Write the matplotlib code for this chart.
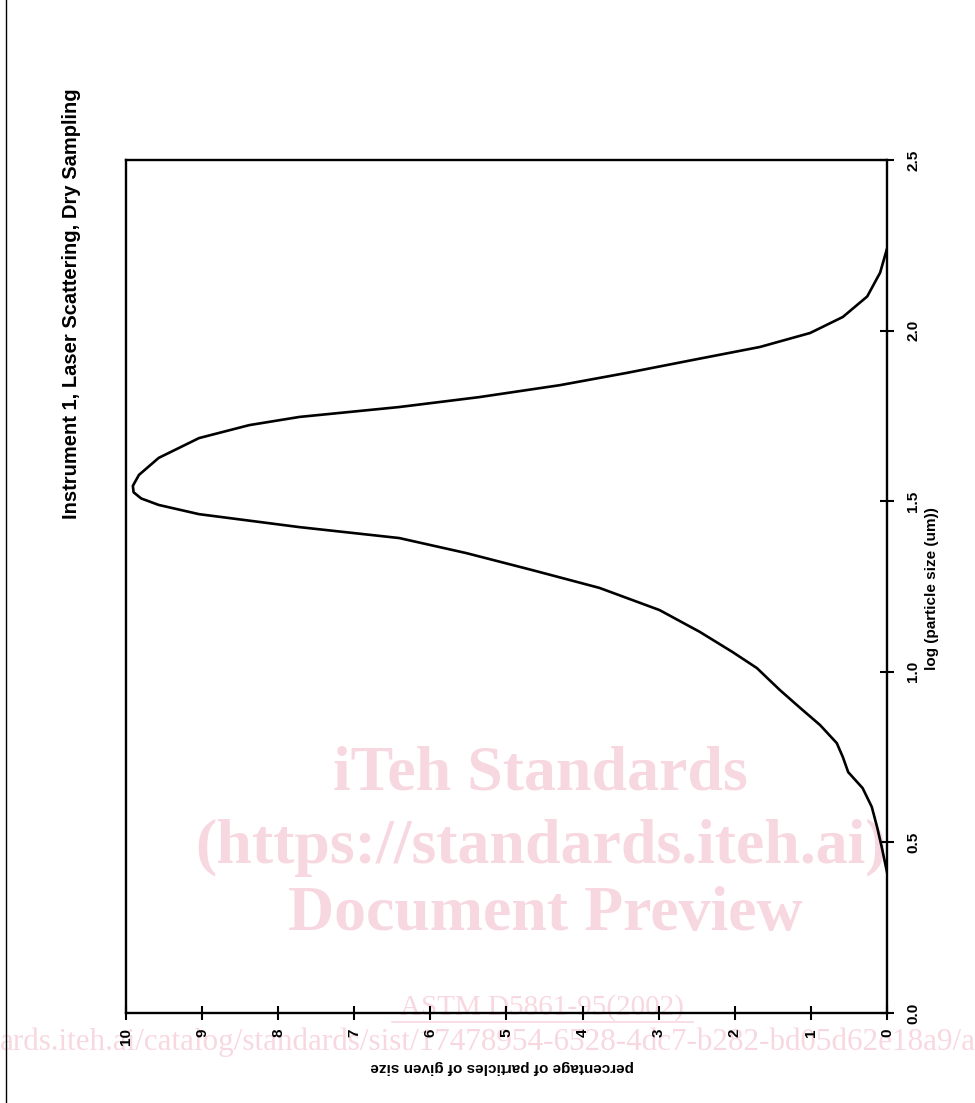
import matplotlib
matplotlib.use('Agg')
import matplotlib.pyplot as plt
from matplotlib.lines import Line2D

# ---- data ----
log_size = [0.413, 0.487, 0.545, 0.604, 0.659, 0.706, 0.750, 0.791, 0.844, 0.894,
            0.947, 1.011, 1.058, 1.117, 1.181, 1.246, 1.298, 1.348, 1.392, 1.424,
            1.462, 1.489, 1.508, 1.526, 1.545, 1.577, 1.627, 1.685, 1.723, 1.747,
            1.776, 1.805, 1.840, 1.876, 1.914, 1.952, 1.993, 2.040, 2.100, 2.170,
            2.240]
percent = [0.00, 0.07, 0.13, 0.20, 0.32, 0.51, 0.58, 0.66, 0.88, 1.14,
           1.41, 1.71, 2.03, 2.46, 2.99, 3.78, 4.66, 5.53, 6.41, 7.72,
           9.04, 9.57, 9.80, 9.90, 9.91, 9.83, 9.57, 9.04, 8.38, 7.72,
           6.41, 5.36, 4.30, 3.42, 2.55, 1.67, 1.01, 0.58, 0.26, 0.09,
           0.00]

pct_ticks = list(range(0, 11))
pct_tick_labels = [str(t) for t in pct_ticks]
log_ticks = [0.0, 0.5, 1.0, 1.5, 2.0, 2.5]
log_tick_labels = ['0.0', '0.5', '1.0', '1.5', '2.0', '2.5']

title = "Instrument 1, Laser Scattering, Dry Sampling"
log_label = "log (particle size (um))"
pct_label = "percentage of particles of given size"

wm_lines = ["iTeh Standards", "(https://standards.iteh.ai)", "Document Preview"]
wm_astm = "ASTM D5861-95(2002)"
wm_url = "ards.iteh.ai/catalog/standards/sist/17478954-6528-4dc7-b282-bd05d62e18a9/a"

# ---- figure ----
W, H = 975, 1103
fig = plt.figure(figsize=(W / 100, H / 100), dpi=100)


def fx(px):
    return px / W


def fy(py):
    return 1 - py / H


SANS = ['Liberation Sans', 'DejaVu Sans']
SERIF = ['Liberation Serif', 'DejaVu Serif']
PINK = '#f8d8e0'

ax = fig.add_axes([fx(126), fy(1013), fx(887) - fx(126), fy(160) - fy(1013)])
ax.set_facecolor('none')
ax.set_zorder(2)

ax.plot(percent, log_size, color='black', lw=1.9, solid_joinstyle='round')
ax.set_xlim(10, 0)
ax.set_ylim(0, 2.5)

ax.set_xticks(pct_ticks)
ax.set_xticklabels(pct_tick_labels, rotation=90, fontsize=11,
                   fontweight='bold', family=SANS, va='top', ha='center')
ax.yaxis.tick_right()
ax.set_yticks(log_ticks)
ax.set_yticklabels(log_tick_labels, rotation=90, fontsize=11,
                   fontweight='bold', family=SANS, va='center', ha='left')
ax.tick_params(axis='both', direction='inout', length=10, width=1.5,
               color='black')
ax.tick_params(axis='x', pad=6)
ax.tick_params(axis='y', pad=9)
for s in ax.spines.values():
    s.set_linewidth(1.7)

# axis titles and chart title (rotated page)
fig.text(fx(932), fy(589), log_label, rotation=90, ha='center', va='center',
         fontsize=11, fontweight='bold', family=SANS)
fig.text(fx(502), fy(1067), pct_label, rotation=180, ha='center', va='center',
         fontsize=11, fontweight='bold', family=SANS)
fig.text(fx(72), fy(304), title, rotation=90, ha='center', va='center',
         fontsize=14.5, fontweight='bold', family=SANS)

# page border on the left
fig.add_artist(Line2D([fx(6), fx(6)], [0, 1], transform=fig.transFigure,
                      color='black', lw=1.0))

# watermark
for txt, (cx, cy) in zip(wm_lines, [(540, 775), (541, 848), (545, 915)]):
    fig.text(fx(cx), fy(cy), txt, ha='center', va='center', fontsize=46,
             fontweight='bold', family=SERIF, color=PINK, zorder=0)
fig.text(fx(542), fy(1008), wm_astm, ha='center', va='center', fontsize=21,
         family=SERIF, color=PINK, zorder=0)
fig.add_artist(Line2D([fx(392), fx(693)], [fy(1022), fy(1022)],
                      transform=fig.transFigure, color=PINK, lw=1.2, zorder=0))
fig.text(0, fy(1042), wm_url, ha='left', va='center', fontsize=22.4,
         family=SERIF, color=PINK, zorder=0)

fig.savefig('out.png', dpi=100, facecolor='white')
